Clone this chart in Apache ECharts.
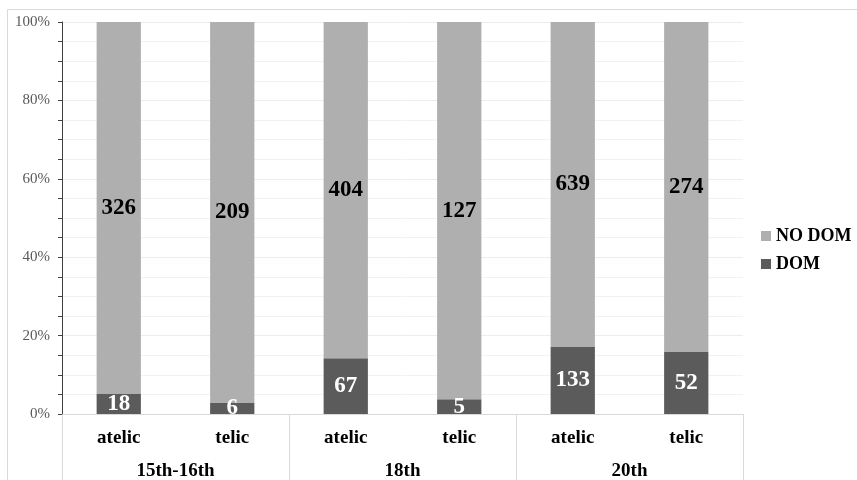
<!DOCTYPE html>
<html>
<head>
<meta charset="utf-8">
<script src="https://cdn.jsdelivr.net/npm/echarts@6/dist/echarts.min.js"></script>
<style>
  html, body { margin: 0; padding: 0; background: #fff; }
  #chart { width: 857px; height: 480px; }
</style>
</head>
<body>
<div id="chart"></div>
<script>
// aspect under each period
const aspects = ['atelic', 'telic', 'atelic', 'telic', 'atelic', 'telic'];
const periods = ['15th-16th', '18th', '20th'];
// raw counts
const domCounts = [18, 6, 67, 5, 133, 52];
const noDomCounts = [326, 209, 404, 127, 639, 274];

const serif = '"Liberation Serif", "DejaVu Serif", serif';

// share of each part in its column, 100% stacked
const pct = (arr, i) => arr[i] / (domCounts[i] + noDomCounts[i]) * 100;
const domPct = domCounts.map((v, i) => pct(domCounts, i));
const noDomPct = noDomCounts.map((v, i) => pct(noDomCounts, i));

const chart = echarts.init(document.getElementById('chart'));

chart.setOption({
    animation: false,
    backgroundColor: '#fff',
    textStyle: { fontFamily: serif },
    graphic: [{
        type: 'rect',
        shape: { x: 7.5, y: 9.5, width: 870, height: 490 },
        style: { fill: 'none', stroke: '#d9d9d9', lineWidth: 1 },
        silent: true
    }],
    grid: { left: 62, right: 114, top: 22, bottom: 66, outerBoundsMode: 'none' },
    legend: {
        data: ['NO DOM', 'DOM'],
        orient: 'vertical',
        left: 756,
        top: 222,
        itemWidth: 10,
        itemHeight: 10,
        itemGap: 10,
        icon: 'rect',
        textStyle: { fontFamily: serif, fontSize: 18, fontWeight: 'bold', color: '#000' }
    },
    xAxis: [{
        type: 'category',
        data: aspects,
        position: 'bottom',
        axisLine: { lineStyle: { color: '#d9d9d9' } },
        axisTick: { show: false },
        axisLabel: { margin: 15, fontFamily: serif, fontSize: 19, fontWeight: 'bold', color: '#000' }
    }, {
        type: 'category',
        data: periods,
        position: 'bottom',
        axisLine: { show: false },
        axisTick: { show: true, length: 70, lineStyle: { color: '#d9d9d9' } },
        axisLabel: { margin: 48, fontFamily: serif, fontSize: 19, fontWeight: 'bold', color: '#000' }
    }],
    yAxis: {
        type: 'value',
        min: 0,
        max: 100,
        interval: 20,
        axisLine: { show: true, lineStyle: { color: '#404040' } },
        axisTick: { show: true, length: 4, lineStyle: { color: '#404040' } },
        minorTick: { show: true, splitNumber: 4, length: 4, lineStyle: { color: '#404040' } },
        splitLine: { lineStyle: { color: '#ececec' } },
        minorSplitLine: { show: true, lineStyle: { color: '#f2f2f2' } },
        axisLabel: {
            margin: 12,
            formatter: '{value}%',
            fontFamily: serif,
            fontSize: 15,
            color: '#595959'
        }
    },
    series: [{
        name: 'DOM',
        type: 'bar',
        stack: 'total',
        barWidth: '39%',
        data: domPct,
        itemStyle: { color: '#5b5b5b' },
        label: {
            show: true,
            position: 'inside',
            formatter: p => domCounts[p.dataIndex],
            fontFamily: serif,
            fontSize: 23,
            fontWeight: 'bold',
            color: '#fff'
        }
    }, {
        name: 'NO DOM',
        type: 'bar',
        stack: 'total',
        data: noDomPct,
        itemStyle: { color: '#afafaf' },
        label: {
            show: true,
            position: 'inside',
            formatter: p => noDomCounts[p.dataIndex],
            fontFamily: serif,
            fontSize: 23,
            fontWeight: 'bold',
            color: '#000'
        }
    }]
});
</script>
</body>
</html>
